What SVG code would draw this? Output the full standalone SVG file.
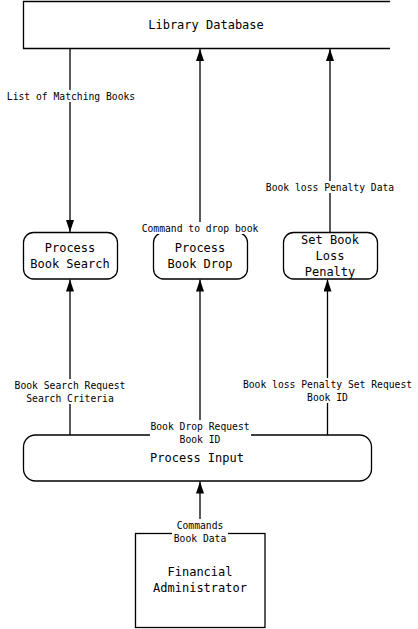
<svg xmlns="http://www.w3.org/2000/svg" width="418" height="629" viewBox="0 0 418 629">
<style>
.n{fill:#fff;stroke:#000;stroke-width:1.3}
.l{stroke:#000;stroke-width:1.3;fill:none}
.t{font-family:"DejaVu Sans Mono",monospace;font-size:12px;text-anchor:middle;fill:#000}
.s{font-family:"DejaVu Sans Mono",monospace;font-size:9.7px;text-anchor:middle;fill:#000}
.bg{fill:#fff}
</style>
<defs>
<marker id="a" viewBox="0 0 12 8" refX="12" refY="4" markerWidth="12" markerHeight="8" markerUnits="userSpaceOnUse" orient="auto">
<path d="M0,0L12,4L0,8z" fill="#000"/>
</marker>
</defs>
<g id="db">
<path class="l" d="M390,1.5H23.5V48.5H390"/>
<text class="t" x="206" y="29">Library Database</text>
</g>
<g id="search">
<rect class="n" x="23.5" y="232.5" width="94" height="46.5" rx="10"/>
<text class="t" x="70" y="252">Process</text>
<text class="t" x="70" y="268">Book Search</text>
</g>
<g id="drop">
<rect class="n" x="153.5" y="232.5" width="94" height="46.5" rx="10"/>
<text class="t" x="200" y="252">Process</text>
<text class="t" x="200" y="268">Book Drop</text>
</g>
<g id="penalty">
<rect class="n" x="283.5" y="232.5" width="94" height="46.5" rx="10"/>
<text class="t" x="330" y="244">Set Book</text>
<text class="t" x="330" y="260">Loss</text>
<text class="t" x="330" y="276">Penalty</text>
</g>
<g id="input">
<rect class="n" x="23.5" y="435" width="348" height="46" rx="12"/>
<text class="t" x="197" y="462">Process Input</text>
</g>
<g id="admin">
<rect class="n" x="135.5" y="533.5" width="129.5" height="94"/>
<text class="t" x="200" y="576">Financial</text>
<text class="t" x="200" y="592">Administrator</text>
</g>
<g id="connectors">
<path class="l" d="M70,48.5V232" marker-end="url(#a)"/>
<rect class="bg" x="6" y="90" width="130" height="12"/>
<text class="s" x="71" y="99.5">List of Matching Books</text>

<path class="l" d="M200,232.5V49" marker-end="url(#a)"/>
<rect class="bg" x="141" y="222" width="119" height="12"/>
<text class="s" x="200" y="231.5">Command to drop book</text>

<path class="l" d="M330,232.5V49" marker-end="url(#a)"/>
<rect class="bg" x="265" y="181" width="131" height="12"/>
<text class="s" x="330" y="190.5">Book loss Penalty Data</text>

<path class="l" d="M70,435V279.5" marker-end="url(#a)"/>
<rect class="bg" x="14" y="379" width="112" height="25"/>
<text class="s" x="70" y="388.5">Book Search Request</text>
<text class="s" x="70" y="401.5">Search Criteria</text>

<path class="l" d="M200,435V279.5" marker-end="url(#a)"/>
<rect class="bg" x="150" y="420" width="101" height="25"/>
<text class="s" x="200" y="429.5">Book Drop Request</text>
<text class="s" x="200" y="442.5">Book ID</text>

<path class="l" d="M327.5,435V279.5" marker-end="url(#a)"/>
<rect class="bg" x="242" y="378" width="171" height="25"/>
<text class="s" x="327.5" y="387.5">Book loss Penalty Set Request</text>
<text class="s" x="327.5" y="400.5">Book ID</text>

<path class="l" d="M200,533.5V481.5" marker-end="url(#a)"/>
<rect class="bg" x="172" y="519" width="56" height="25"/>
<text class="s" x="200" y="528.5">Commands</text>
<text class="s" x="200" y="541.5">Book Data</text>
</g>
</svg>
